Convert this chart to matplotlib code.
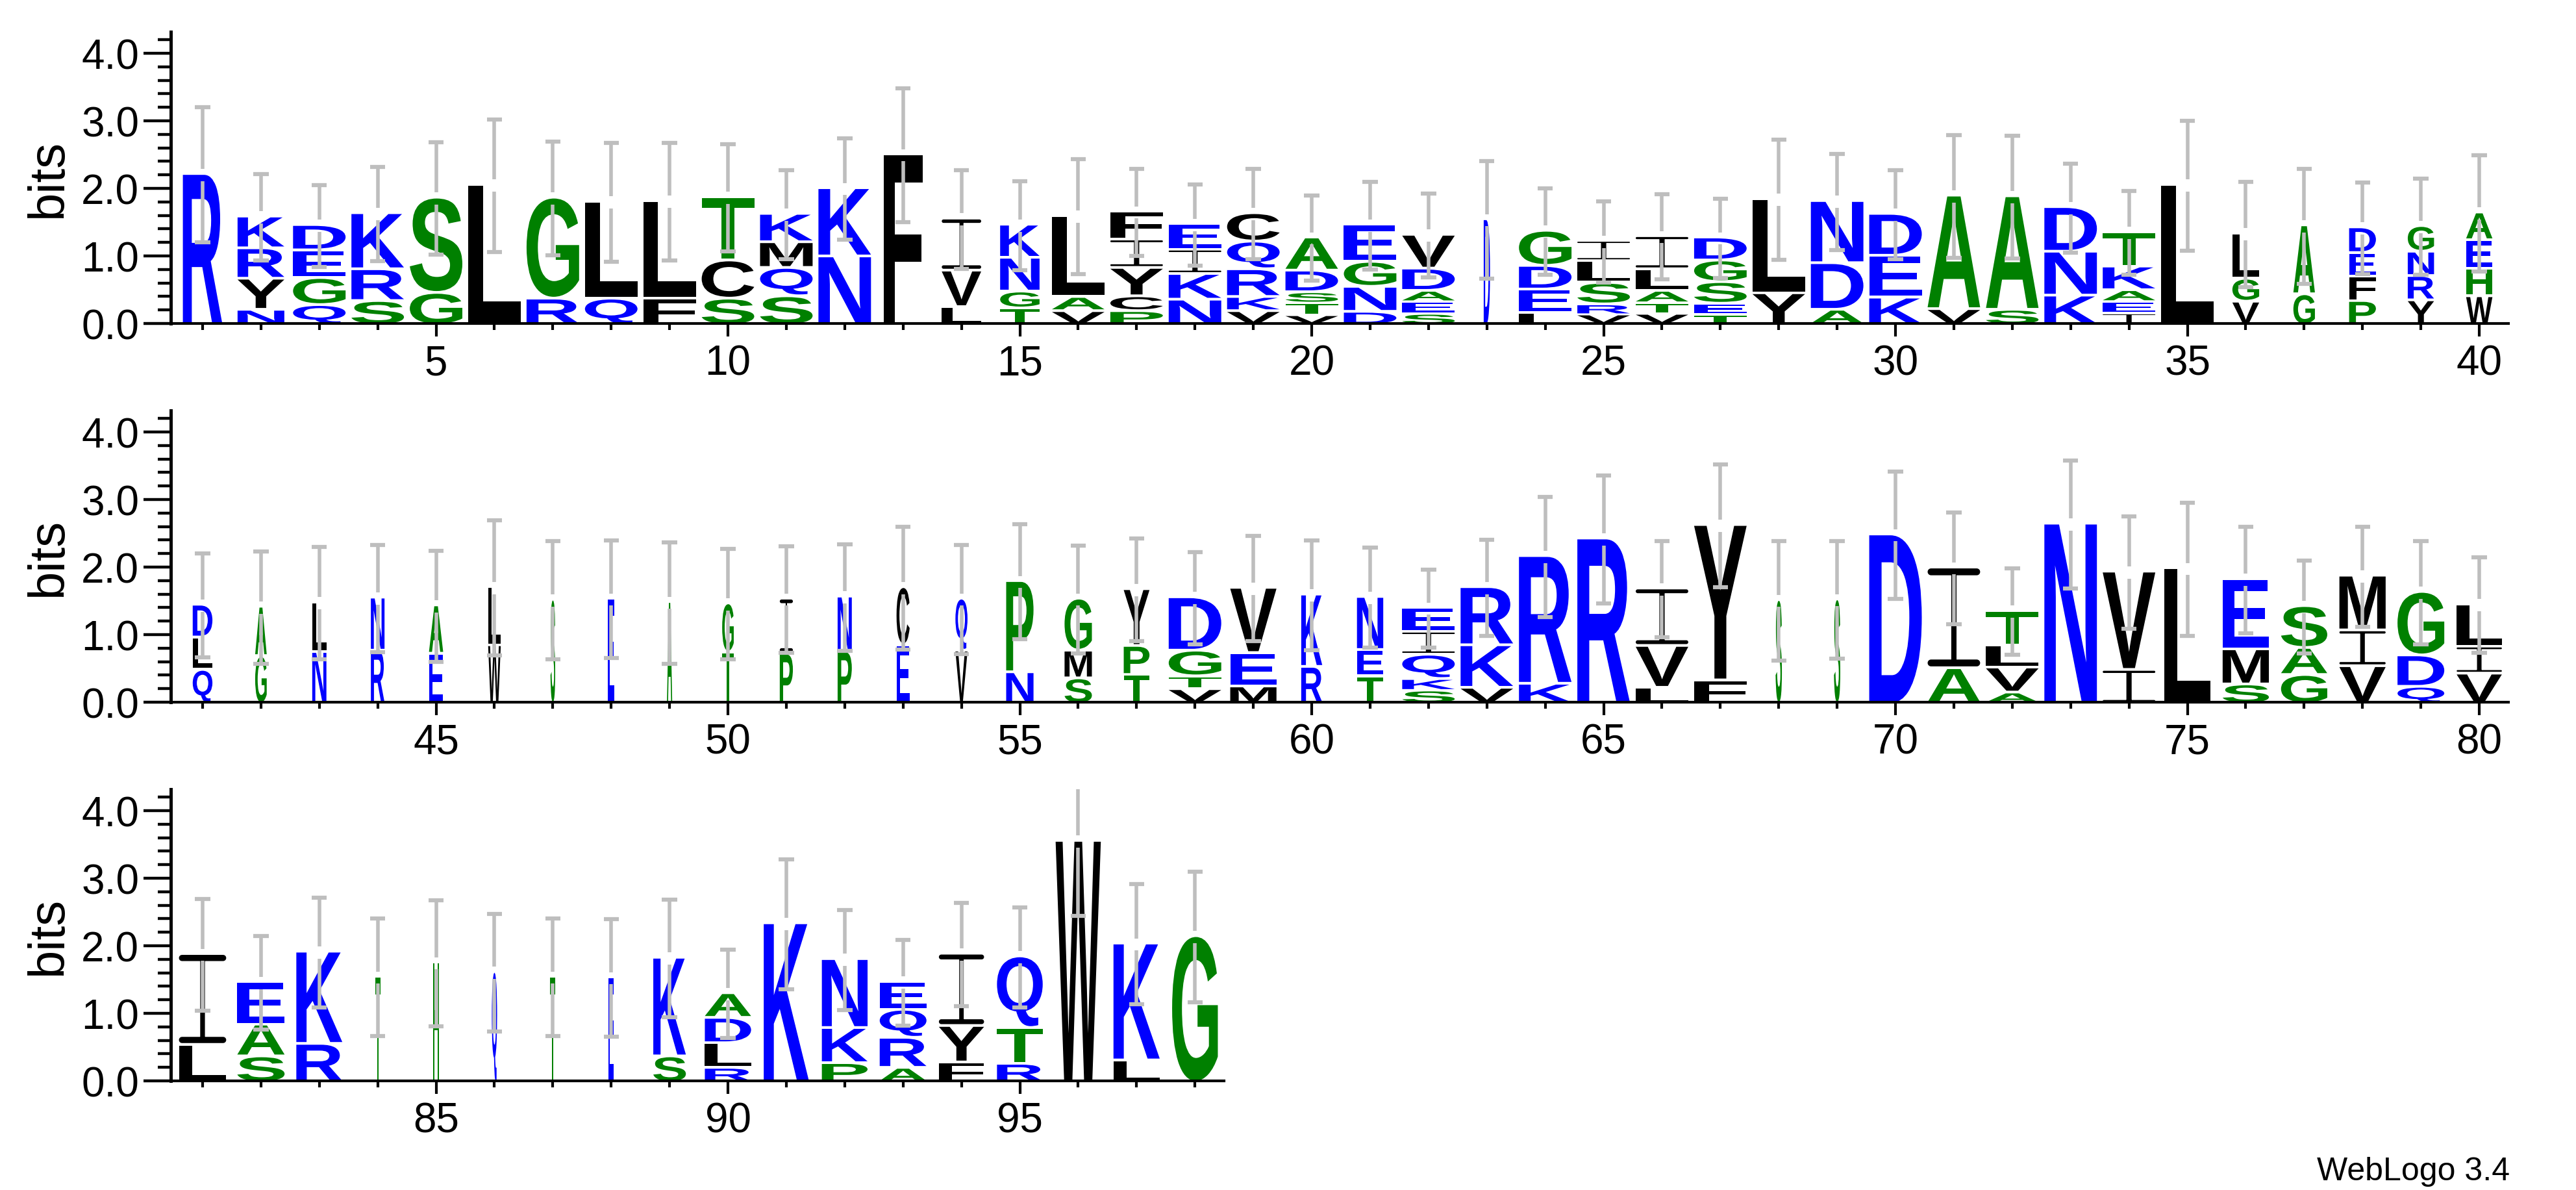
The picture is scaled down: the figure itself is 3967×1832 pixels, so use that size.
import numpy as np
import matplotlib
matplotlib.use("Agg")
import matplotlib.pyplot as plt
from matplotlib.textpath import TextPath
from matplotlib.font_manager import FontProperties
from matplotlib.patches import PathPatch
from matplotlib.path import Path
from matplotlib.transforms import Affine2D
from matplotlib.ticker import FixedLocator, FormatStrFormatter

positions = list(range(1, 99))

# letters of each stack, bottom -> top
letters = [
    "R", "NYRK", "QGED", "SRK", "GS", "L", "RG", "QL", "FL", "SCT",
    "SQMK", "NK", "F", "LVI", "TGNK", "VAL", "PCYIF", "NKIE", "VKRQC", "VTSDA",
    "DNGE", "SEADV", "D", "LEDG", "VRSLI", "VTALI", "TESGD", "YL", "ADN", "KED",
    "VA", "SA", "KND", "IEAKT", "L", "VGL", "GA", "PFED", "YRNG", "WHEA",
    "QLD", "GA", "NL", "RN", "EA", "WL", "S", "E", "A", "TG",
    "PI", "PN", "EC", "VQ", "NP", "SMG", "TPY", "VTGD", "MEV", "RK",
    "TEN", "SKQIE", "VKR", "KR", "R", "LVI", "FY", "S", "S", "D",
    "AI", "AVLT", "N", "IV", "L", "SME", "GAS", "VIM", "QDG", "VIL",
    "LI", "SAE", "RK", "T", "H", "Q", "T", "E", "SK", "RLDA",
    "K", "PKN", "ARQE", "FYI", "RTQ", "W", "LK", "G",
]

# cumulative top of each letter in the stack (bits)
tops = [
    [2.20], [0.19, 0.65, 1.10, 1.57], [0.26, 0.66, 1.07, 1.445], [0.32, 0.79, 1.62],
    [0.44, 1.85], [2.04], [0.355, 1.85], [0.355, 1.79], [0.355, 1.80], [0.355, 0.92, 1.86],
    [0.39, 0.81, 1.19, 1.61], [0.98, 1.99], [2.49], [0.23, 0.77, 1.54],
    [0.21, 0.46, 0.96, 1.45], [0.17, 0.38, 1.58], [0.17, 0.39, 0.81, 1.23, 1.645],
    [0.34, 0.72, 1.08, 1.46], [0.17, 0.38, 0.79, 1.20, 1.62], [0.11, 0.29, 0.45, 0.77, 1.26],
    [0.16, 0.53, 0.90, 1.45], [0.13, 0.31, 0.47, 0.80, 1.30], [1.53], [0.145, 0.49, 0.84, 1.36],
    [0.12, 0.27, 0.59, 0.91, 1.21], [0.13, 0.29, 0.47, 0.79, 1.28], [0.12, 0.28, 0.60, 0.92, 1.26],
    [0.435, 1.83], [0.19, 0.88, 1.80], [0.37, 0.99, 1.61],
    [0.20, 1.88], [0.19, 1.87], [0.40, 1.05, 1.71], [0.135, 0.31, 0.48, 0.83, 1.34],
    [2.04], [0.31, 0.65, 1.32], [0.42, 1.44], [0.32, 0.68, 1.03, 1.41],
    [0.33, 0.69, 1.05, 1.43], [0.39, 0.80, 1.22, 1.63],
    [0.465, 0.945, 1.43], [0.67, 1.40], [0.73, 1.465], [0.75, 1.535], [0.705, 1.42],
    [0.83, 1.69], [1.505], [1.52], [1.47], [0.72, 1.45],
    [0.705, 1.52], [0.74, 1.55], [0.83, 1.69], [0.75, 1.52], [0.43, 1.78],
    [0.34, 0.75, 1.52], [0.39, 0.82, 1.66], [0.18, 0.37, 0.75, 1.54], [0.22, 0.715, 1.68],
    [0.51, 1.58],
    [0.37, 0.76, 1.545], [0.16, 0.33, 0.69, 1.03, 1.385], [0.20, 0.83, 1.69], [0.26, 2.15],
    [2.41], [0.20, 0.82, 1.67], [0.31, 2.61], [1.50], [1.51], [2.47],
    [0.49, 1.98], [0.13, 0.50, 0.83, 1.34], [2.63], [0.465, 1.92], [1.97],
    [0.25, 0.77, 1.81], [0.39, 0.79, 1.41], [0.52, 1.05, 1.86], [0.215, 0.68, 1.62],
    [0.41, 0.81, 1.435],
    [0.52, 1.865], [0.35, 0.82, 1.45], [0.535, 1.90], [1.53], [1.74], [1.60], [1.53],
    [1.52], [0.35, 1.81], [0.18, 0.545, 0.92, 1.285],
    [2.32], [0.25, 0.77, 1.79], [0.18, 0.625, 1.04, 1.455], [0.26, 0.80, 1.87],
    [0.24, 0.77, 1.83], [3.54], [0.29, 2.02], [2.13],
]

# upper end of the error bar (bits)
err_tops = [
    3.20, 2.21, 2.05, 2.32, 2.68, 3.02, 2.69, 2.67, 2.67, 2.65,
    2.27, 2.74, 3.48, 2.27, 2.11, 2.43, 2.29, 2.06, 2.29, 1.89,
    2.10, 1.92, 2.40, 2.00, 1.81, 1.91, 1.845, 2.72, 2.51, 2.27,
    2.79, 2.78, 2.37, 1.96, 3.00, 2.10, 2.29, 2.09, 2.14, 2.49,
    2.20, 2.23, 2.30, 2.33, 2.24, 2.69, 2.38, 2.39, 2.37, 2.27,
    2.31, 2.34, 2.60, 2.33, 2.63, 2.32, 2.42, 2.22, 2.46, 2.39,
    2.285, 1.965, 2.40, 3.04, 3.36, 2.38, 3.52, 2.38, 2.38, 3.41,
    2.81, 1.98, 3.58, 2.75, 2.955, 2.60, 2.10, 2.60, 2.38, 2.14,
    2.69, 2.14, 2.71, 2.40, 2.67, 2.47, 2.40, 2.39, 2.68, 1.94,
    3.28, 2.53, 2.09, 2.63, 2.57, 4.64, 2.91, 3.10,
]

# relative stack width (fraction of occupied sequences)
widths = [
    0.75, 0.89, 1.0, 1.0, 1.0, 1.0, 1.0, 1.0, 1.0, 1.0,
    1.0, 1.0, 0.74, 0.75, 0.75, 1.0, 1.0, 1.0, 1.0, 1.0,
    1.0, 1.0, 0.12, 1.0, 1.0, 1.0, 1.0, 1.0, 1.0, 1.0,
    1.0, 1.0, 1.0, 1.0, 1.0, 0.51, 0.41, 0.51, 0.50, 0.50,
    0.375, 0.22, 0.27, 0.26, 0.27, 0.24, 0.09, 0.12, 0.10, 0.22,
    0.25, 0.27, 0.25, 0.23, 0.52, 0.52, 0.49, 1.0, 0.88, 0.40,
    0.50, 1.0, 1.0, 1.0, 1.0, 1.0, 1.0, 0.12, 0.12, 1.0,
    1.0, 1.0, 1.0, 1.0, 0.88, 0.88, 0.88, 0.88, 0.89, 0.86,
    0.90, 0.90, 0.875, 0.10, 0.12, 0.10, 0.10, 0.10, 0.62, 0.88,
    0.86, 0.87, 0.89, 0.86, 0.87, 0.86, 0.88, 0.87,
]

row_ranges = [(1, 40), (41, 80), (81, 98)]
y_ticks = [0.0, 1.0, 2.0, 3.0, 4.0]

# ---------------- styling ----------------
color_groups = {"RKDENQ": "#0000ff", "SGHTAP": "#008000", "YVMCLFIW": "#000000"}


def letter_color(ch):
    for group, col in color_groups.items():
        if ch in group:
            return col
    return "#000000"


W, H = 3967, 1833
fig = plt.figure(figsize=(W / 100, H / 100), dpi=100)
fig.patch.set_facecolor("white")

glyph_font = FontProperties(family="Liberation Sans", weight="bold")
label_font = "Liberation Sans"
glyph_cache = {}

MAX_W = 0.9          # full stack width in position units
PX_PER_POS = 89.9
PX_PER_BIT = 104.0
LEFT_PX = 267
ZERO_PX = [499, 1082, 1665]
YMAX = 4.32
AX_H_PX = YMAX * PX_PER_BIT
GAP = 0.09            # white gap of the error bar around the stack top
CAP = 0.13
ERR_COLOR = "#bebebe"


def glyph(ch):
    if ch not in glyph_cache:
        tp = TextPath((0, 0), ch, size=1, prop=glyph_font)
        ext = tp.get_extents()
        glyph_cache[ch] = (tp, ext)
    return glyph_cache[ch]


def pill(x0, x1, y0, y1, rx):
    """Closed polygon of a bar with elliptic rounded ends (ccw)."""
    ry = (y1 - y0) / 2
    yc = (y0 + y1) / 2
    rx = min(rx, (x1 - x0) / 2)
    t1 = np.linspace(-np.pi / 2, np.pi / 2, 12)
    t2 = np.linspace(np.pi / 2, 3 * np.pi / 2, 12)
    right = np.column_stack([x1 - rx + rx * np.cos(t1), yc + ry * np.sin(t1)])
    left = np.column_stack([x0 + rx + rx * np.cos(t2), yc + ry * np.sin(t2)])
    pts = np.vstack([right, left, right[:1]])
    codes = [Path.MOVETO] + [Path.LINETO] * (len(pts) - 2) + [Path.CLOSEPOLY]
    return Path(pts, codes)


def serif_i(x0, y0, w, h):
    """Capital I with rounded cross bars, as drawn by the logo font."""
    bar = 0.07 * h
    rx = (bar / 2) * PX_PER_BIT / PX_PER_POS
    stem = 0.10 * w
    xc = x0 + w / 2
    top = pill(x0, x0 + w, y0 + h - bar, y0 + h, rx)
    bot = pill(x0, x0 + w, y0, y0 + bar, rx)
    sx = [xc - stem / 2, xc + stem / 2, xc + stem / 2, xc - stem / 2, xc - stem / 2]
    sy = [y0 + bar * 0.5, y0 + bar * 0.5, y0 + h - bar * 0.5, y0 + h - bar * 0.5, y0 + bar * 0.5]
    st = Path(np.column_stack([sx, sy]),
              [Path.MOVETO, Path.LINETO, Path.LINETO, Path.LINETO, Path.CLOSEPOLY])
    return Path.make_compound_path(top, bot, st)


for (p0, p1), zpx in zip(row_ranges, ZERO_PX):
    n = p1 - p0 + 1
    ax = fig.add_axes([LEFT_PX / W, (H - zpx) / H, n * PX_PER_POS / W, AX_H_PX / H])
    ax.set_xlim(p0 - 0.5, p1 + 0.5)
    ax.set_ylim(0, YMAX)

    for p in range(p0, p1 + 1):
        i = p - 1
        seq = letters[i]
        tp_list = tops[i]
        bottoms = [0.0] + tp_list[:-1]
        w = widths[i] * MAX_W
        x0 = positions[i] - w / 2
        for k, (ch, yb, yt) in enumerate(zip(seq, bottoms, tp_list)):
            h = yt - yb
            inset = 0.0 if k == 0 else min(0.04, 0.2 * h)
            y0 = yb + inset
            gh = yt - y0
            if ch == "I":
                path = serif_i(x0, y0, w, gh)
            else:
                tp, ext = glyph(ch)
                tr = (Affine2D()
                      .translate(-ext.x0, -ext.y0)
                      .scale(w / ext.width, gh / ext.height)
                      .translate(x0, y0))
                path = tr.transform_path(tp)
            ax.add_patch(PathPatch(path, facecolor=letter_color(ch),
                                   edgecolor="none", lw=0, zorder=2))
        # error bar
        c = tp_list[-1]
        e = err_tops[i] - c
        lo, hi = c - e, c + e
        x = positions[i]
        ax.vlines([x, x], [lo, c + GAP], [c - GAP, hi], colors=ERR_COLOR,
                  lw=4.0, zorder=3)
        ax.hlines([lo, hi], x - CAP, x + CAP, colors=ERR_COLOR, lw=4.5, zorder=3)

    # axes styling
    for s in ("top", "right"):
        ax.spines[s].set_visible(False)
    ax.spines["left"].set_linewidth(3.6)
    ax.spines["bottom"].set_linewidth(3.0)
    ax.spines["left"].set_position(("outward", 3))

    ax.yaxis.set_major_locator(FixedLocator(y_ticks))
    ax.yaxis.set_minor_locator(FixedLocator(np.round(np.arange(0, 4.31, 0.2), 2)))
    ax.yaxis.set_major_formatter(FormatStrFormatter("%.1f"))
    ax.tick_params(axis="y", which="major", length=30, width=3.2, direction="out",
                   labelsize=46, pad=5)
    ax.tick_params(axis="y", which="minor", length=14.5, width=3.2, direction="out")

    majors = [v for v in range(p0, p1 + 1) if v % 5 == 0]
    ax.xaxis.set_major_locator(FixedLocator(majors))
    ax.xaxis.set_minor_locator(FixedLocator(list(range(p0, p1 + 1))))
    ax.tick_params(axis="x", which="major", length=14.5, width=3.0, direction="out",
                   labelsize=46, pad=8)
    ax.tick_params(axis="x", which="minor", length=7.2, width=3.0, direction="out")
    for lab in ax.get_xticklabels() + ax.get_yticklabels():
        lab.set_fontfamily(label_font)

    ax.set_ylabel("bits", fontsize=56, fontfamily=label_font)
    ax.yaxis.label.set_verticalalignment("center")
    ax.yaxis.set_label_coords((74 - LEFT_PX) / (n * PX_PER_POS), 0.5)

fig.text(3865 / W, (H - 1817) / H, "WebLogo 3.4", ha="right", va="baseline",
         fontsize=36, fontfamily=label_font)

fig.savefig("out.png", dpi=100, facecolor="white")
